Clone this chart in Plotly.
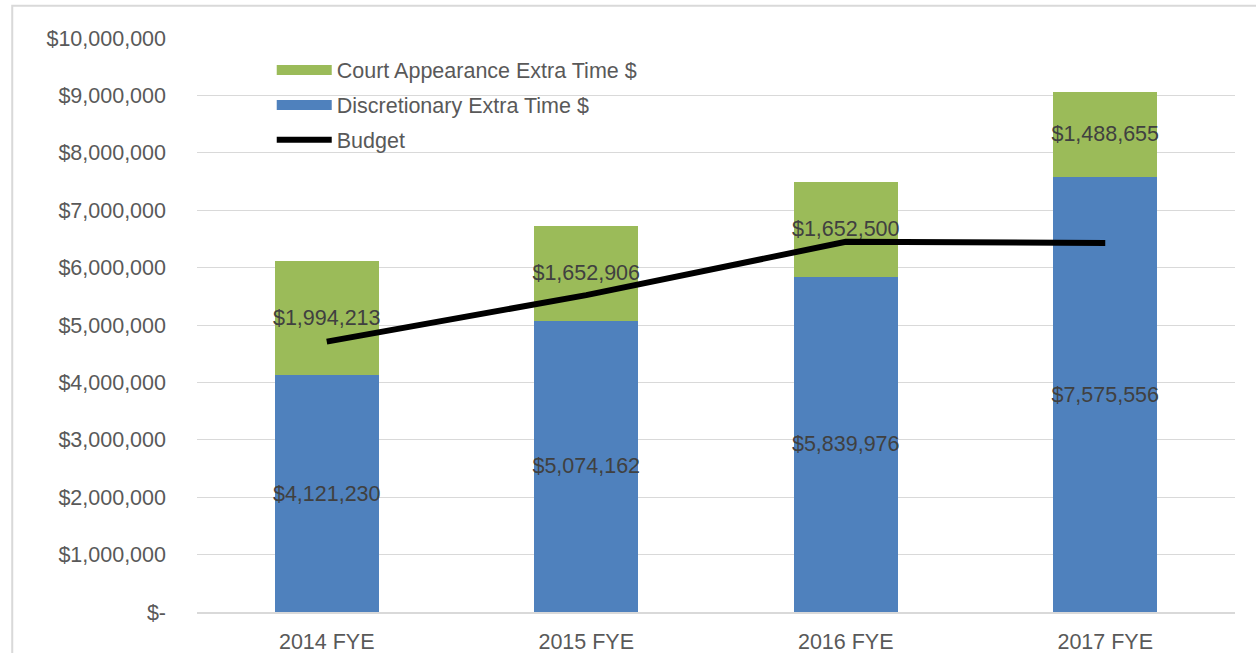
import plotly.graph_objects as go

categories = ["2014 FYE", "2015 FYE", "2016 FYE", "2017 FYE"]
discretionary = [4121230, 5074162, 5839976, 7575556]
court = [1994213, 1652906, 1652500, 1488655]
budget = [4710000, 5520000, 6450000, 6430000]
tick_vals = [0, 1e6, 2e6, 3e6, 4e6, 5e6, 6e6, 7e6, 8e6, 9e6, 10e6]
tick_text = ["$-", "$1,000,000", "$2,000,000", "$3,000,000", "$4,000,000", "$5,000,000",
             "$6,000,000", "$7,000,000", "$8,000,000", "$9,000,000", "$10,000,000"]

BLUE = "#4F81BD"
GREEN = "#9BBB59"
FONT = "Liberation Sans"
FS = 21.5

def fmt(v):
    return "${:,.0f}".format(v)

fig = go.Figure()
fig.add_trace(go.Bar(x=categories, y=discretionary, name="Discretionary Extra Time $",
                     marker=dict(color=BLUE, line=dict(width=0)), showlegend=False,
                     text=[fmt(v) for v in discretionary], textposition="inside",
                     insidetextanchor="middle", textangle=0, constraintext="none",
                     textfont=dict(color="#404040", size=FS, family=FONT)))
fig.add_trace(go.Bar(x=categories, y=court, name="Court Appearance Extra Time $",
                     marker=dict(color=GREEN, line=dict(width=0)), showlegend=False,
                     text=[fmt(v) for v in court], textposition="inside",
                     insidetextanchor="middle", textangle=0, constraintext="none",
                     textfont=dict(color="#404040", size=FS, family=FONT)))
fig.add_trace(go.Scatter(x=categories, y=budget, name="Budget", mode="lines",
                         line=dict(color="black", width=6), showlegend=False))
# legend entries
fig.add_trace(go.Scatter(x=[None], y=[None], name="Court Appearance Extra Time $", mode="lines",
                         legendgroup="a", line=dict(color=GREEN, width=15)))
fig.add_trace(go.Scatter(x=[None], y=[None], name="Discretionary Extra Time $", mode="lines",
                         legendgroup="b", line=dict(color=BLUE, width=15)))
fig.add_trace(go.Scatter(x=[None], y=[None], name="Budget", mode="lines",
                         legendgroup="c", line=dict(color="black", width=6)))

fig.update_layout(
    width=1256, height=653,
    margin=dict(l=197, r=21, t=38, b=41, autoexpand=False),
    barmode="stack", bargap=0.6,
    plot_bgcolor="white", paper_bgcolor="white",
    font=dict(family=FONT, size=FS, color="#595959"),
    legend=dict(x=0.072, y=0.98, xanchor="left", yanchor="top",
                bgcolor="rgba(0,0,0,0)", itemwidth=55, tracegroupgap=4,
                traceorder="grouped",
                font=dict(size=FS, color="#595959", family=FONT)),
    xaxis=dict(showline=True, linecolor="#d9d9d9", linewidth=2, showgrid=False,
               automargin=False, ticks="", ticklabelstandoff=9,
               tickfont=dict(size=FS, color="#595959")),
    yaxis=dict(range=[0, 10e6], tickvals=tick_vals, ticktext=tick_text,
               showgrid=True, gridcolor="#d9d9d9", gridwidth=1, zeroline=False,
               automargin=False, ticks="", ticklabelstandoff=30,
               tickfont=dict(size=FS, color="#595959")),
    shapes=[dict(type="rect", xref="paper", yref="paper",
                 x0=-0.178, x1=1.05, y0=-0.2, y1=1.056,
                 line=dict(color="#d9d9d9", width=2), fillcolor="rgba(0,0,0,0)", layer="below")],
)

fig.write_html("out.html", config={"displayModeBar": False},
               post_script="document.body.style.margin='0';document.body.style.overflow='hidden';")
